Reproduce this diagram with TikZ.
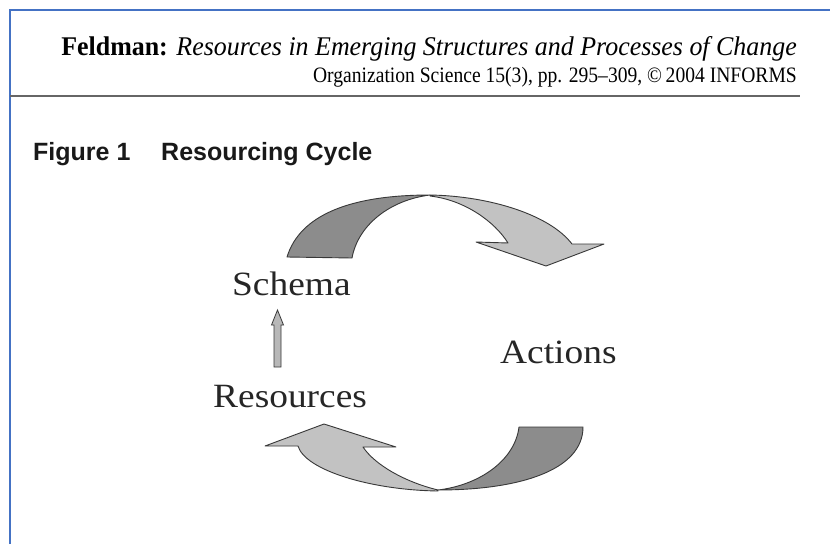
\documentclass[tikz,border=0pt]{standalone}
\usepackage{fontspec}
\setmainfont{Liberation Serif}
\newfontfamily\lblfont[FakeStretch=1.1]{Liberation Serif}
\newfontfamily\hdrafont[FakeStretch=0.96,Ligatures=TeX]{Liberation Serif}
\newfontfamily\hdrbfont[FakeStretch=0.89,Ligatures=TeX]{Liberation Serif}
\newfontfamily\figfont{Liberation Sans}
\definecolor{frameblue}{HTML}{4472C4}
\definecolor{ruleg}{HTML}{666666}
\definecolor{darkf}{HTML}{8C8C8C}
\definecolor{lightf}{HTML}{C2C2C2}
\definecolor{edgec}{HTML}{383838}
\tikzset{
  hdra/.style={anchor=base east, inner sep=0pt, font=\hdrafont\fontsize{27}{30}\selectfont},
  hdrb/.style={anchor=base east, inner sep=0pt, font=\hdrbfont\fontsize{22}{25}\selectfont},
  lbl/.style={anchor=base west, inner sep=0pt, font=\lblfont\fontsize{34}{38}\selectfont, text=black!85},
  figt/.style={anchor=base west, inner sep=0pt, font=\figfont\bfseries\fontsize{25}{28}\selectfont, text=black!90},
  darkpart/.style={fill=darkf, draw=edgec, line width=0.9pt, line join=round},
  lightpart/.style={fill=lightf, draw=edgec, line width=0.9pt, line join=round},
  smallarrow/.style={fill=lightf!95!black, draw=edgec, line width=0.8pt}
}
\begin{document}
\begin{tikzpicture}[x=1pt,y=-1pt]
\useasboundingbox (0,0) rectangle (830,544);
\fill[white] (0,0) rectangle (830,544);
% frame
\draw[frameblue, line width=2pt] (10,544) -- (10,10) -- (830,10);
% header
\node[hdra] (h1) at (797,55) {\textbf{Feldman:} \textit{Resources in Emerging Structures and Processes of Change}};
\node[hdrb] (h2) at (797,82) {Organization Science 15(3), pp. 295–309, \copyright\,2004 INFORMS};
\draw[ruleg, line width=2.2pt] (10,96) -- (800,96);
% figure title
\node[figt] (f1) at (33,160) {Figure 1};
\node[figt] (f2) at (161,160) {Resourcing Cycle};
% labels
\node[lbl] (schema) at (232,295) {Schema};
\node[lbl] (actions) at (500,363) {Actions};
\node[lbl] (resources) at (213,407) {Resources};
% top arrow
\filldraw[lightpart] (430,195) .. controls (490,196) and (550,215) .. (572,244) -- (604,244) -- (546,266) -- (476,242) -- (508,243) .. controls (495,222) and (465,200) .. (430,196) -- cycle;
\filldraw[darkpart] (287,257) .. controls (300,215) and (350,195) .. (430,195) .. controls (390,200) and (358,225) .. (352,258) -- cycle;
% bottom arrow
\filldraw[lightpart] (438,491) .. controls (370,490) and (305,470) .. (298,446) -- (265,446) -- (324,424) -- (396,447) -- (363,447) .. controls (375,465) and (405,482) .. (438,490) -- cycle;
\filldraw[darkpart] (519,427) -- (583,427) .. controls (583,470) and (520,490) .. (438,490) .. controls (480,485) and (515,460) .. (519,427) -- cycle;
% small up arrow
\filldraw[smallarrow] (274,367) -- (274,325) -- (271.5,325) -- (277.5,310) -- (283.5,325) -- (281,325) -- (281,367) -- cycle;
\end{tikzpicture}
\end{document}
